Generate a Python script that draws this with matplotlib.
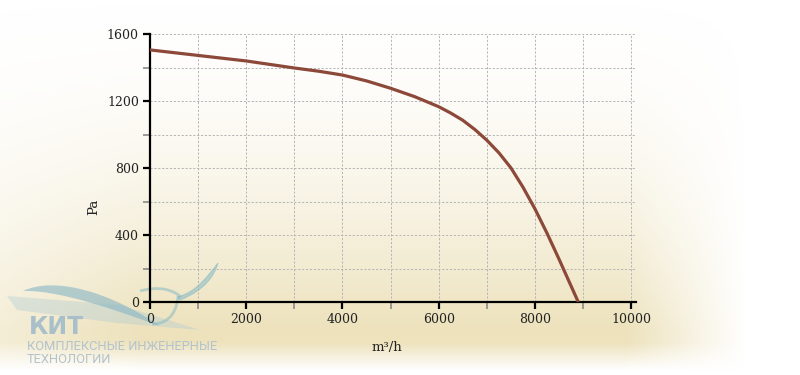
import numpy as np
import matplotlib
matplotlib.use("Agg")
import matplotlib.pyplot as plt
from matplotlib.patches import PathPatch
from matplotlib.path import Path
from matplotlib.ticker import MultipleLocator

# fan curve
flow = [0, 1000, 2000, 3000, 3500, 4000, 4500, 5000, 5500, 6000, 6250, 6500,
        6750, 7000, 7250, 7500, 7750, 8000, 8250, 8500, 8750, 8900]
pressure = [1505, 1472, 1439, 1397, 1378, 1355, 1320, 1276, 1226, 1166, 1128, 1085,
            1030, 966, 891, 801, 686, 556, 411, 256, 96, 0]

x_ticks = [0, 2000, 4000, 6000, 8000, 10000]
y_ticks = [0, 400, 800, 1200, 1600]
x_label = "m³/h"
y_label = "Pa"
logo_big = "КИТ"
logo_line1 = "КОМПЛЕКСНЫЕ ИНЖЕНЕРНЫЕ"
logo_line2 = "ТЕХНОЛОГИИ"

W, H = 800, 375
CURVE = "#8c4838"
SERIF = ["DejaVu Serif"]

fig = plt.figure(figsize=(W / 100, H / 100), dpi=100)

# beige glow behind the chart
bg = fig.add_axes([0, 0, 1, 1])
bg.set_xlim(0, W)
bg.set_ylim(H, 0)
bg.axis("off")
xx, yy = np.meshgrid(np.arange(W), np.arange(H))
fx = np.clip((745 - xx) / 120, 0, 1) * np.clip(0.6 + xx / 350, 0, 1)
fy = np.clip(0.05 + yy / 345, 0, 1) ** 2 * np.clip((370 - yy) / 28, 0, 1)
alpha = np.clip(fx * fy, 0, 1)
rgba = np.zeros((H, W, 4))
rgba[..., 0] = 0.93
rgba[..., 1] = 0.89
rgba[..., 2] = 0.74
rgba[..., 3] = alpha
bg.imshow(rgba, extent=[0, W, H, 0], aspect="auto", interpolation="bilinear")


# logo swooshes (light teal)
def shape(verts, codes, a, **kw):
    bg.add_patch(PathPatch(Path(verts, codes), alpha=a, **kw))


M, C, L, Z = Path.MOVETO, Path.CURVE4, Path.LINETO, Path.CLOSEPOLY
TEAL = "#7fb6c6"
# pale wedge
shape([(7, 296), (120, 305), (200, 330), (117, 323), (17, 310), (7, 296)],
      [M, L, L, L, L, Z], 0.35, facecolor="#a9c9d4", edgecolor="none")
# crescent
shape([(23, 291), (55, 276), (110, 292), (160, 326),
       (115, 310), (60, 290), (23, 291), (23, 291)],
      [M, C, C, C, C, C, C, Z], 0.6, facecolor="#86b5c5", edgecolor="none")
# neck rising from the crescent
shape([(152, 324), (172, 324), (177, 308), (178, 296)],
      [M, C, C, C], 0.5, facecolor="none", edgecolor=TEAL, lw=2.0)
# head
shape([(140, 291), (158, 286), (172, 289), (181, 297)],
      [M, C, C, C], 0.5, facecolor="none", edgecolor=TEAL, lw=2.0)
# tail
shape([(178, 297), (195, 292), (205, 280), (218, 263),
       (214, 276), (205, 290), (180, 300), (178, 297)],
      [M, C, C, C, C, C, C, Z], 0.5, facecolor=TEAL, edgecolor=TEAL, lw=0.8)

bg.text(29, 334, logo_big, fontsize=17, fontweight="heavy", color="#a9bfca",
        family=["DejaVu Sans"], ha="left", va="baseline")
bg.text(27, 350, logo_line1, fontsize=9.3, color="#b3c3cc", family=["Roboto"],
        ha="left", va="baseline")
bg.text(27, 363, logo_line2, fontsize=9.3, color="#b3c3cc", family=["Roboto"],
        ha="left", va="baseline")

ax = fig.add_axes([150 / W, (H - 302) / H, 486 / W, 268 / H])
ax.patch.set_alpha(0)
ax.set_xlim(0, 10100)
ax.set_ylim(0, 1600)

ax.plot(flow, pressure, color=CURVE, lw=2.3, solid_capstyle="butt",
        solid_joinstyle="round", zorder=4)

ax.xaxis.set_minor_locator(MultipleLocator(1000))
ax.yaxis.set_minor_locator(MultipleLocator(200))
ax.set_xticks(x_ticks)
ax.set_yticks(y_ticks)
ax.set_xticklabels([str(v) for v in x_ticks], family=SERIF, fontsize=9, color="#222222")
ax.set_yticklabels([str(v) for v in y_ticks], family=SERIF, fontsize=9, color="#222222")

ax.grid(which="both", color="#b4b4b4", linestyle=(0, (2.2, 1.8)), linewidth=0.7)
ax.set_axisbelow(True)

ax.tick_params(which="major", direction="out", length=5, width=1.6, color="black", pad=3)
ax.tick_params(which="minor", direction="out", length=5, width=1.2, color="#8a8a8a")

for side in ("top", "right"):
    ax.spines[side].set_visible(False)
for side in ("left", "bottom"):
    ax.spines[side].set_linewidth(1.6)
    ax.spines[side].set_color("black")

ax.set_xlabel(x_label, family=SERIF, fontsize=9.5, color="#222222")
ax.set_ylabel(y_label, family=SERIF, fontsize=9.5, color="#222222")
ax.xaxis.set_label_coords(0.488, -0.145)
ax.yaxis.set_label_coords(-0.103, 0.354)

fig.savefig("out.png", dpi=100, facecolor="white")
